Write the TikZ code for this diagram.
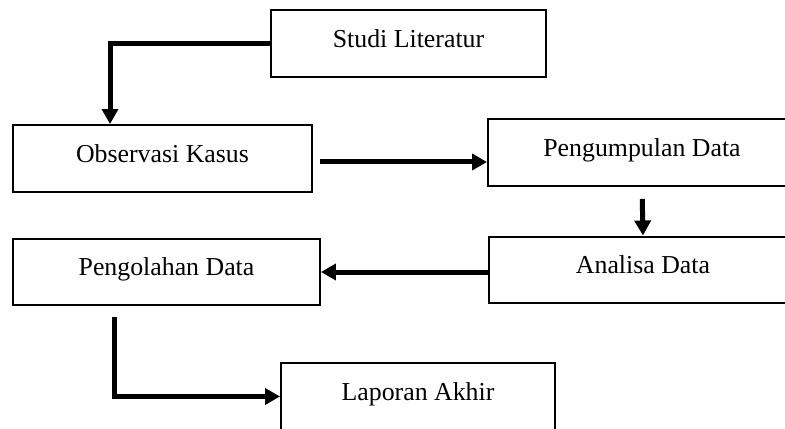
\documentclass[tikz,border=0pt]{standalone}
\usepackage{fontspec}
\setmainfont{Liberation Serif}
\usetikzlibrary{arrows.meta,calc}
\tikzset{box/.style={draw=black, line width=0.04cm, minimum height=1.34cm, inner sep=0pt, text height=0.36cm, text depth=0.2cm, font=\fontsize{14.7}{17}\selectfont},
flow/.style={black, line width=0.1cm, -{Triangle[length=0.3cm,width=0.32cm]}}}

\begin{document}
\begin{tikzpicture}[x=0.02cm,y=-0.02cm]
\clip (0,0) rectangle (785,429);
\node[box, minimum width=5.5cm] (studi) at (408.5,43.5) {Studi Literatur};
\node[box, minimum width=5.98cm] (obs) at (162.5,158.5) {Observasi Kasus};
\node[box, minimum width=6.16cm] (kumpul) at (642,152.5) {Pengumpulan Data};
\node[box, minimum width=6.16cm] (analisa) at (643,270) {Analisa Data};
\node[box, minimum width=6.14cm] (olah) at (166.5,272) {Pengolahan Data};
\node[box, minimum width=5.48cm] (laporan) at (418,396.5) {Laporan Akhir};
% connectors
\coordinate (a1) at ($(obs.east)+(7,3.5)$);
\coordinate (a2) at ($(olah.south west)+(102,11)$);
\draw[flow] (studi.west) -| ($(obs.north west)+(98,0)$);
\draw[flow] (a1) -- (a1 -| kumpul.west);
\draw[flow, shorten <=0.24cm] (kumpul.south) -- (analisa.north);
\draw[flow] (olah.east -| analisa.west) -- (olah.east);
\draw[flow] (a2) |- (laporan.west);
\end{tikzpicture}
\end{document}
